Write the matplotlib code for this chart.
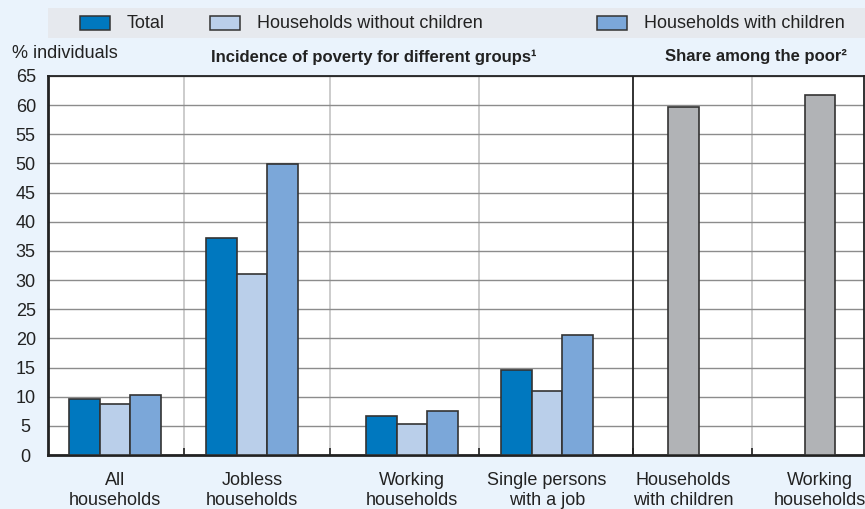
import matplotlib
matplotlib.use("Agg")
import matplotlib.pyplot as plt
from matplotlib.patches import Rectangle
from matplotlib import font_manager

# ---- data ----
groups = ["All\nhouseholds", "Jobless\nhouseholds", "Working\nhouseholds", "Single persons\nwith a job"]
total = [9.6, 37.2, 6.7, 14.5]
without_children = [8.7, 31.1, 5.3, 10.9]
with_children = [10.3, 49.9, 7.6, 20.5]
share_cats = ["Households\nwith children", "Working\nhouseholds"]
share_values = [59.6, 61.8]
series_names = ["Total", "Households without children", "Households with children"]
yticks = list(range(0, 70, 5))

# ---- layout ----
avail = {f.name for f in font_manager.fontManager.ttflist}
fam = ["Liberation Sans Narrow", "DejaVu Sans"] if "Liberation Sans Narrow" in avail else ["Liberation Sans", "DejaVu Sans"]
plt.rcParams["font.family"] = fam

W, H = 865, 509
fig = plt.figure(figsize=(W / 100, H / 100), dpi=100)
fig.patch.set_facecolor("#EAF3FC")

x0, x1, ytop, ybot = 48, 864, 76, 455
ax = fig.add_axes([x0 / W, 1 - ybot / H, (x1 - x0) / W, (ybot - ytop) / H])
ax.set_facecolor("white")

centers = [0.0, 1.0, 2.168, 3.153]
share_centers = [4.149, 5.146]
separators = [0.504, 1.569, 2.657, 4.650]
main_sep = 3.781
bw = 0.222
colors = ["#0078BF", "#BACFEA", "#7BA7D9"]
grey = "#B1B3B6"
edge = "#333333"

for i, vals in enumerate([total, without_children, with_children]):
    ax.bar([c + (i - 1) * bw for c in centers], vals, width=bw, color=colors[i],
           edgecolor=edge, linewidth=1.2, zorder=3)
ax.bar(share_centers, share_values, width=bw, color=grey, edgecolor=edge, linewidth=1.2, zorder=3)

ax.set_xlim(-0.489, 5.467)
ax.set_ylim(0, 65)
ax.set_yticks(yticks)
ax.yaxis.grid(True, color="#8c8c8c", linewidth=1.0, zorder=1)
for s in separators:
    ax.axvline(s, color="#c4c4c4", linewidth=1.2, zorder=1)
ax.axvline(main_sep, color="#222222", linewidth=1.3, zorder=2)

ax.set_xticks(centers + share_centers)
ax.set_xticklabels(groups + share_cats, fontsize=13, color="#222222", linespacing=1.25)
ax.tick_params(axis="x", length=0, pad=12)
ax.tick_params(axis="y", length=0, pad=16, labelsize=13, labelcolor="#222222")
for lbl in ax.get_yticklabels():
    lbl.set_horizontalalignment("center")
ax.set_xticks(separators + [main_sep], minor=True)
ax.tick_params(axis="x", which="minor", direction="in", length=5, color="#222222", width=1.2)

for sp in ax.spines.values():
    sp.set_color("#222222")
    sp.set_linewidth(1.3)
ax.spines["left"].set_linewidth(2.0)
ax.spines["bottom"].set_linewidth(2.0)

# headers
fig.text(12 / W, 1 - 54 / H, "% individuals", fontsize=13, color="#222222", va="center", ha="left")
fig.text(374 / W, 1 - 57 / H, "Incidence of poverty for different groups¹", fontsize=12,
         fontweight="bold", color="#222222", va="center", ha="center")
fig.text(756 / W, 1 - 57 / H, "Share among the poor²", fontsize=12,
         fontweight="bold", color="#222222", va="center", ha="center")

# legend
fig.patches.append(Rectangle((48 / W, 1 - 38 / H), (865 - 48) / W, 30 / H,
                             transform=fig.transFigure, facecolor="#E6E9EE", edgecolor="none"))
leg_x = [80, 210, 597]
for lx, name, col in zip(leg_x, series_names, colors):
    fig.patches.append(Rectangle((lx / W, 1 - 30 / H), 30 / W, 14 / H, transform=fig.transFigure,
                                 facecolor=col, edgecolor=edge, linewidth=1.1))
    fig.text((lx + 47) / W, 1 - 23 / H, name, fontsize=13, color="#222222", va="center", ha="left")

fig.savefig("out.png", dpi=100, facecolor=fig.get_facecolor())
